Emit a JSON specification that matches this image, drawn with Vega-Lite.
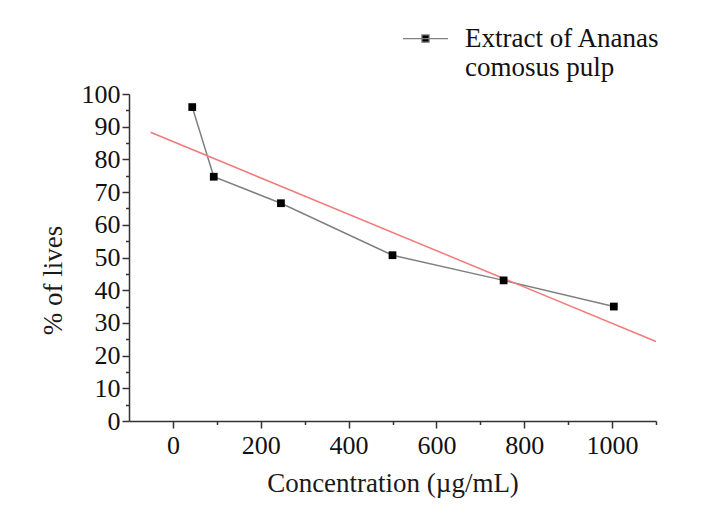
{
  "$schema": "https://vega.github.io/schema/vega-lite/v6.json",
  "width": 527,
  "height": 327,
  "autosize": {"type": "none"},
  "padding": {"left": 129, "top": 94, "right": 61, "bottom": 92},
  "background": "white",
  "config": {
    "view": {"stroke": null},
    "font": "Liberation Serif",
    "axis": {
      "grid": false,
      "domainColor": "#333333",
      "domainWidth": 1.5,
      "tickColor": "#333333",
      "tickWidth": 1.5,
      "labelFont": "Liberation Serif",
      "labelFontSize": 26,
      "labelColor": "#111111",
      "titleFont": "Liberation Serif",
      "titleFontSize": 27,
      "titleFontWeight": "normal",
      "titleColor": "#1a1a1a"
    }
  },
  "datasets": {
    "obs": [
      {"conc": 44, "lives": 96},
      {"conc": 93, "lives": 74.7},
      {"conc": 246, "lives": 66.6},
      {"conc": 500, "lives": 50.7},
      {"conc": 753, "lives": 43},
      {"conc": 1004, "lives": 35}
    ],
    "fit": [
      {"conc": -51, "fit": 88.3},
      {"conc": 1100, "fit": 24.3}
    ]
  },
  "layer": [
    {
      "data": {"name": "obs"},
      "mark": {"type": "line", "color": "#808080", "strokeWidth": 1.5},
      "encoding": {
        "x": {
          "field": "conc", "type": "quantitative",
          "scale": {"domain": [-100, 1100], "nice": false, "zero": false},
          "axis": {
            "values": [0, 200, 400, 600, 800, 1000],
            "format": "d",
            "tickSize": 7,
            "labelPadding": 4,
            "title": "Concentration (µg/mL)",
            "titlePadding": 12
          }
        },
        "y": {
          "field": "lives", "type": "quantitative",
          "scale": {"domain": [0, 100], "nice": false},
          "axis": {
            "values": [0, 10, 20, 30, 40, 50, 60, 70, 80, 90, 100],
            "tickSize": 7,
            "labelPadding": 2,
            "title": "% of lives",
            "titlePadding": 14,
            "titleY": 186
          }
        }
      }
    },
    {
      "data": {"name": "fit"},
      "mark": {"type": "line", "color": "#f37a7a", "strokeWidth": 1.5},
      "encoding": {
        "x": {
          "field": "conc", "type": "quantitative",
          "scale": {"domain": [-100, 1100], "nice": false, "zero": false},
          "axis": {
            "orient": "bottom",
            "values": [100, 300, 500, 700, 900, 1100],
            "tickSize": 3.5,
            "labels": false,
            "domain": false,
            "title": null
          }
        },
        "y": {
          "field": "fit", "type": "quantitative",
          "scale": {"domain": [0, 100], "nice": false},
          "axis": {
            "orient": "left",
            "values": [5, 15, 25, 35, 45, 55, 65, 75, 85, 95],
            "tickSize": 3.5,
            "labels": false,
            "domain": false,
            "title": null
          }
        }
      }
    },
    {
      "data": {"name": "obs"},
      "mark": {"type": "point", "shape": "square", "filled": true, "size": 60, "opacity": 1},
      "encoding": {
        "x": {
          "field": "conc", "type": "quantitative",
          "scale": {"domain": [-100, 1100], "nice": false, "zero": false},
          "axis": null
        },
        "y": {
          "field": "lives", "type": "quantitative",
          "scale": {"domain": [0, 100], "nice": false},
          "axis": null
        },
        "color": {
          "datum": "Extract of Ananas comosus pulp",
          "scale": {"range": ["#000000"]},
          "legend": {
            "orient": "none",
            "legendX": 273,
            "legendY": -92,
            "title": null,
            "padding": 0,
            "symbolType": "M-1,0.58H1M-0.16,0.42H0.16V0.74H-0.16Z",
            "symbolSize": 2025,
            "symbolStrokeColor": "#808080",
            "symbolStrokeWidth": 1.2,
            "symbolFillColor": "#000000",
            "labelFont": "Liberation Serif",
            "labelFontSize": 27,
            "labelColor": "#111111",
            "labelLimit": 400,
            "labelOffset": 16,
            "labelBaseline": "top",
            "labelExpr": "['Extract of Ananas', 'comosus pulp']",
            "encode": {"labels": {"update": {"lineHeight": {"value": 33}}}}
          }
        }
      }
    }
  ],
  "resolve": {"axis": {"x": "independent", "y": "independent"}}
}
